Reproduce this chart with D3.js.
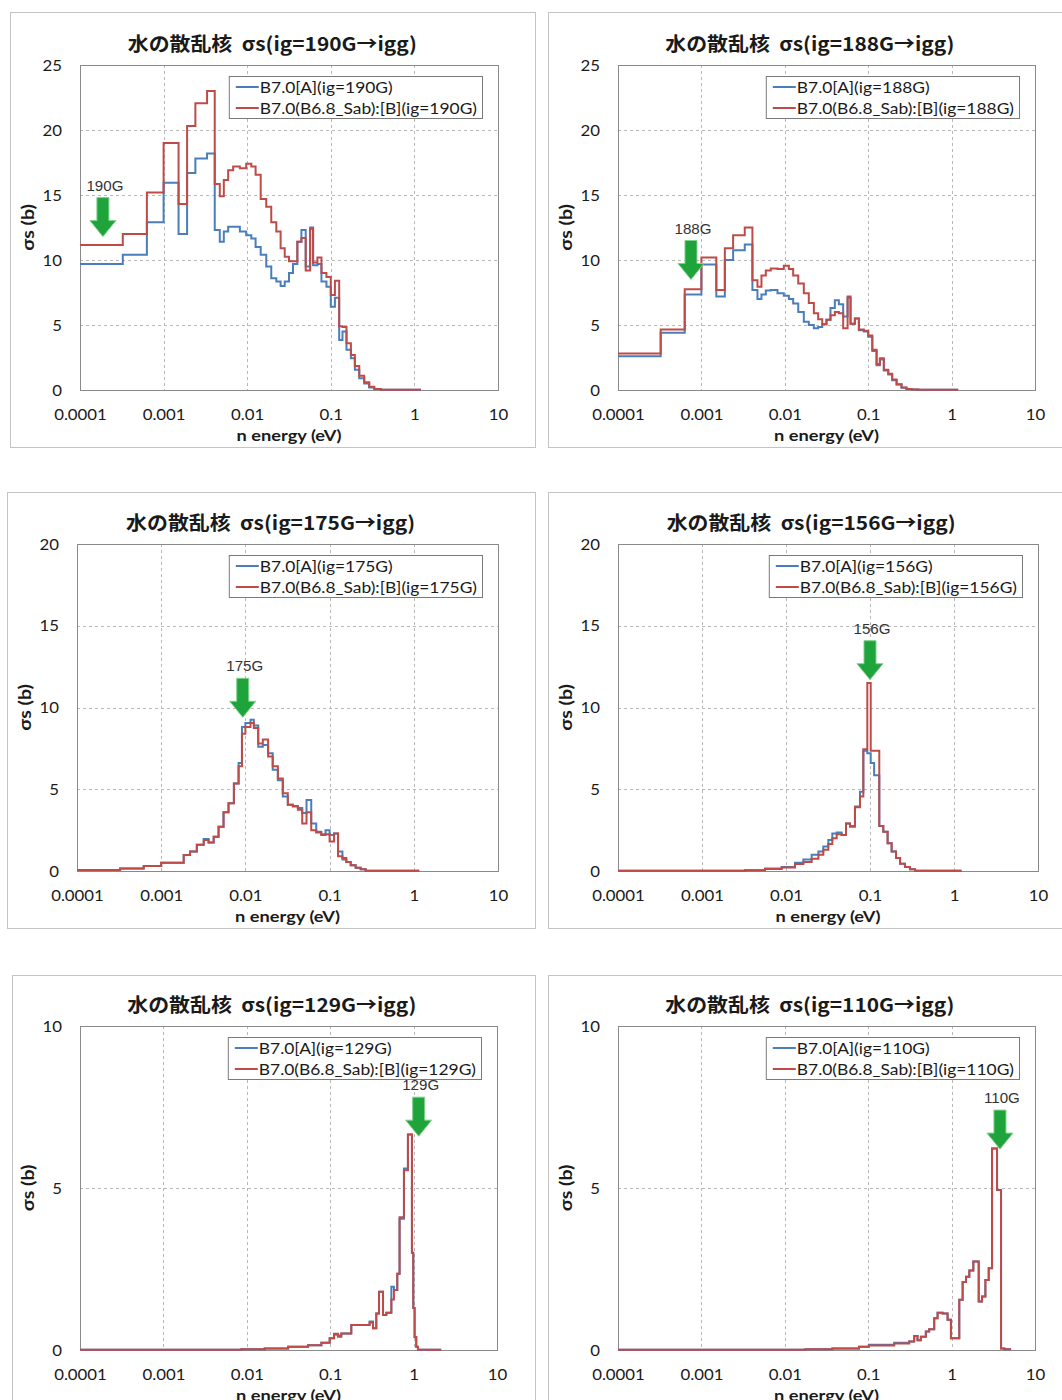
<!DOCTYPE html>
<html>
<head>
<meta charset="utf-8">
<script src="https://cdn.jsdelivr.net/npm/d3@7"></script>
<style>
  body { margin: 0; background: #fff; }
  svg { display: block; }
</style>
</head>
<body>
<div id="container"></div>
<script>
let w = 1062;
let h = 1400;

// DATA (group boundaries in eV, sigma_s in barns)
// 190G and 188G share the same low-energy boundaries
let edgesLow = [1e-4, 3.25e-4, 6.31e-4, 1e-3, 1.51e-3, 1.91e-3, 2.40e-3, 3.31e-3, 4.09e-3, 4.70e-3,
    5.25e-3, 5.92e-3, 6.79e-3, 8.17e-3, 9.73e-3, 1.12e-2, 1.26e-2, 1.45e-2, 1.69e-2, 1.94e-2,
    2.23e-2, 2.51e-2, 2.81e-2, 3.16e-2, 3.53e-2, 3.98e-2, 4.45e-2, 5.01e-2, 5.66e-2, 6.14e-2,
    6.92e-2, 7.73e-2, 8.87e-2, 0.1, 0.112, 0.126, 0.138, 0.154, 0.174, 0.194,
    0.219, 0.251, 0.288, 0.331, 0.398, 1.2];

let a190 = [9.7, 10.4, 12.9, 15.95, 12.0, 16.7, 17.8, 18.2, 12.3, 11.4,
    12.2, 12.55, 12.55, 12.2, 11.9, 11.65, 11.0, 10.4, 9.5, 8.6,
    8.35, 8.0, 8.35, 9.0, 9.7, 11.4, 12.3, 9.5, 12.5, 9.6,
    9.7, 8.35, 7.95, 6.4, 7.1, 3.85, 4.5, 3.1, 2.45, 1.55,
    0.9, 0.5, 0.2, 0.07, 0.02];
let b190 = [11.15, 12.0, 15.2, 19.0, 14.3, 20.3, 22.05, 23.0, 15.85, 14.9,
    16.15, 16.9, 17.2, 17.05, 17.4, 17.2, 16.55, 14.7, 14.1, 12.9,
    12.2, 10.9, 10.25, 9.9, 9.9, 11.4, 11.7, 9.2, 12.4, 9.8,
    10.2, 9.0, 8.7, 7.3, 8.4, 4.9, 4.85, 3.6, 2.7, 1.85,
    1.1, 0.6, 0.25, 0.08, 0.02];

let a188 = [2.6, 4.4, 7.35, 9.65, 7.2, 10.0, 10.75, 11.2, 7.7, 7.0,
    7.35, 7.65, 7.7, 7.45, 7.25, 7.0, 6.65, 6.0, 5.25, 5.0,
    4.75, 4.85, 5.05, 5.4, 6.3, 6.9, 6.6, 5.65, 7.1, 5.1,
    5.5, 4.6, 4.5, 4.1, 3.0, 1.9, 2.35, 1.5, 1.2, 0.75,
    0.42, 0.18, 0.07, 0.03, 0.02];
let b188 = [2.8, 4.65, 7.75, 10.2, 7.7, 10.9, 11.9, 12.5, 8.45, 7.95,
    8.8, 9.2, 9.35, 9.3, 9.55, 9.3, 8.8, 8.2, 7.45, 6.7,
    5.9, 5.45, 5.05, 5.4, 5.75, 6.0, 5.9, 4.75, 7.2, 5.1,
    5.5, 4.65, 4.55, 4.2, 3.1, 2.0, 2.45, 1.55, 1.25, 0.8,
    0.45, 0.2, 0.08, 0.03, 0.02];

let edges175 = [1e-4, 3.25e-4, 6.2e-4, 1e-3, 1.85e-3, 2.2e-3, 2.65e-3, 3.2e-3, 3.65e-3, 4.2e-3,
    4.8e-3, 5.5e-3, 6.3e-3, 7.3e-3, 8.3e-3, 9.1e-3, 1.0e-2, 1.15e-2, 1.26e-2, 1.42e-2,
    1.61e-2, 1.86e-2, 2.11e-2, 2.43e-2, 2.78e-2, 3.19e-2, 3.66e-2, 4.2e-2, 4.73e-2, 5.32e-2,
    6.05e-2, 6.94e-2, 7.96e-2, 8.95e-2, 0.1, 0.113, 0.126, 0.142, 0.158, 0.178,
    0.204, 0.234, 0.268, 1.16];
let a175 = [0.06, 0.15, 0.3, 0.5, 0.98, 1.2, 1.6, 1.95, 1.75, 2.1,
    2.7, 3.6, 4.15, 5.35, 6.6, 8.8, 9.05, 9.25, 8.9, 7.6,
    7.7, 7.2, 6.2, 5.55, 4.55, 4.05, 3.97, 3.85, 3.55, 4.35,
    2.9, 2.4, 2.25, 2.5, 2.2, 2.3, 1.2, 0.7, 0.55, 0.35,
    0.2, 0.1, 0.02];
let b175 = [0.06, 0.15, 0.3, 0.5, 0.98, 1.2, 1.6, 1.9, 1.75, 2.1,
    2.7, 3.6, 4.15, 5.35, 6.4, 8.4, 8.8, 9.05, 8.75, 7.8,
    8.05, 7.0, 6.4, 5.65, 4.75, 4.05, 3.95, 3.75, 2.9, 3.6,
    2.5, 2.35, 2.2, 2.25, 1.8, 2.3, 0.9, 0.8, 0.55, 0.35,
    0.2, 0.1, 0.02];

let edges156 = [1e-4, 3.25e-3, 5.62e-3, 8.88e-3, 1.28e-2, 1.61e-2, 2.02e-2, 2.43e-2, 2.78e-2, 3.19e-2,
    3.56e-2, 4.01e-2, 4.60e-2, 5.18e-2, 5.78e-2, 6.62e-2, 7.60e-2, 8.33e-2, 9.29e-2, 0.102,
    0.112, 0.129, 0.144, 0.162, 0.181, 0.204, 0.228, 0.261, 0.299, 0.344, 1.23];
let a156 = [0.02, 0.05, 0.15, 0.25, 0.5, 0.7, 1.0, 1.2, 1.5, 1.9,
    2.3, 2.35, 2.2, 2.9, 2.75, 3.95, 4.85, 7.35, 7.2, 6.6,
    5.85, 2.75, 2.4, 1.7, 1.2, 0.8, 0.45, 0.25, 0.1, 0.02];
let b156 = [0.02, 0.05, 0.12, 0.22, 0.43, 0.55, 0.75, 1.0, 1.3, 1.65,
    2.0, 2.25, 2.2, 2.9, 2.7, 3.9, 4.55, 7.45, 11.5, 7.35,
    7.35, 2.75, 2.4, 1.7, 1.2, 0.8, 0.45, 0.25, 0.1, 0.02];

let edges129 = [1e-4, 8.63e-3, 1.64e-2, 3.13e-2, 5.43e-2, 7.84e-2, 9.86e-2, 0.111, 0.124, 0.136,
    0.179, 0.236, 0.297, 0.326, 0.357, 0.385, 0.430, 0.471, 0.541, 0.581,
    0.637, 0.679, 0.766, 0.855, 0.955, 0.991, 1.028, 1.076, 1.127, 2.14];
let a129 = [0.005, 0.02, 0.05, 0.1, 0.15, 0.22, 0.36, 0.47, 0.45, 0.51,
    0.77, 0.77, 0.88, 0.67, 1.13, 1.8, 1.08, 1.15, 1.95, 1.85,
    2.35, 4.05, 5.6, 6.65, 3.0, 1.3, 0.4, 0.1, 0.01];
let b129 = [0.005, 0.02, 0.05, 0.1, 0.15, 0.22, 0.36, 0.5, 0.41, 0.51,
    0.77, 0.77, 0.85, 0.67, 1.13, 1.8, 1.08, 1.15, 1.56, 1.85,
    2.35, 4.1, 5.55, 6.65, 3.0, 1.3, 0.4, 0.1, 0.01];

let edges110 = [1e-4, 1.77e-2, 3.71e-2, 7.76e-2, 0.102, 0.205, 0.310, 0.356, 0.390, 0.428,
    0.491, 0.538, 0.619, 0.679, 0.780, 0.895, 0.982, 1.236, 1.356, 1.487,
    1.631, 1.822, 2.113, 2.317, 2.541, 2.786, 3.055, 3.508, 3.917, 4.296, 5.17];
let a110 = [0.005, 0.02, 0.05, 0.1, 0.16, 0.22, 0.26, 0.43, 0.3, 0.41,
    0.57, 0.64, 0.98, 1.15, 1.13, 0.93, 0.36, 1.55, 2.1, 2.26,
    2.45, 2.73, 1.5, 1.65, 2.16, 2.52, 6.22, 4.94, 0.05, 0.02];
let b110 = [0.005, 0.02, 0.05, 0.1, 0.14, 0.2, 0.26, 0.43, 0.3, 0.41,
    0.57, 0.64, 0.98, 1.15, 1.13, 0.93, 0.36, 1.55, 2.1, 2.26,
    2.45, 2.73, 1.5, 1.65, 2.16, 2.52, 6.22, 4.94, 0.05, 0.02];

let groups = ["190G", "188G", "175G", "156G", "129G", "110G"];
let yMax = [25, 25, 20, 20, 10, 10];
let arrowE = [1.88e-4, 7.5e-4, 9.3e-3, 0.1, 1.15, 3.8];   // where the green arrows point
let arrowV = [11.8, 8.5, 9.4, 11.7, 6.6, 6.2];
let xTicks = [1e-4, 1e-3, 1e-2, 0.1, 1, 10];
let xTickLabels = ["0.0001", "0.001", "0.01", "0.1", "1", "10"];

let series = [
    {edges: edgesLow, a: a190, b: b190},
    {edges: edgesLow, a: a188, b: b188},
    {edges: edges175, a: a175, b: b175},
    {edges: edges156, a: a156, b: b156},
    {edges: edges129, a: a129, b: b129},
    {edges: edges110, a: a110, b: b110}
];

// LAYOUT (frame = outer box, plot = inner plot area)
let layout = [
    {frame: [10, 12, 525, 435], plot: [80, 65, 418, 325]},
    {frame: [548, 12, 530, 435], plot: [618, 65, 417, 325]},
    {frame: [7, 492, 528, 436], plot: [77, 544, 421, 327]},
    {frame: [548, 492, 530, 436], plot: [618, 544, 420, 327]},
    {frame: [12, 975, 523, 440], plot: [80, 1026, 417, 324]},
    {frame: [548, 975, 530, 440], plot: [618, 1026, 417, 324]}
];

let blue = "#4a7ebb";
let red = "#be4b48";
let font = "Lato, 'Open Sans', 'Noto Sans CJK JP', sans-serif";

// the source picture is a bit wider than tall, so texts get stretched sideways
function stretch(sel, k) {
    sel.each(function () {
        let len = this.getComputedTextLength();
        d3.select(this).attr("textLength", len * k).attr("lengthAdjust", "spacingAndGlyphs");
    });
}

let svg = d3.select("#container").append("svg")
    .attr("width", w)
    .attr("height", h)
    .style("background-color", "white");

series.forEach((s, i) => {
    let L = layout[i];
    let px = L.plot[0], py = L.plot[1], pw = L.plot[2], ph = L.plot[3];

    let x = d3.scaleLog().domain([1e-4, 10]).range([px, px + pw]);
    let y = d3.scaleLinear().domain([0, yMax[i]]).range([py + ph, py]);
    let yTicks = d3.range(0, yMax[i] + 1, 5);

    let g = svg.append("g");

    // outer frame
    g.append("rect")
        .attr("x", L.frame[0] + 0.5).attr("y", L.frame[1] + 0.5)
        .attr("width", L.frame[2]).attr("height", L.frame[3])
        .attr("fill", "white")
        .attr("stroke", "#c4c4c4");

    // grid
    g.selectAll(".vgrid").data(xTicks.slice(1, -1)).enter()
        .append("line")
        .attr("x1", d => Math.round(x(d)) + 0.5).attr("x2", d => Math.round(x(d)) + 0.5)
        .attr("y1", py).attr("y2", py + ph)
        .attr("stroke", "#b8b8b8")
        .attr("stroke-dasharray", "3,3");
    g.selectAll(".hgrid").data(yTicks.slice(1, -1)).enter()
        .append("line")
        .attr("x1", px).attr("x2", px + pw)
        .attr("y1", d => Math.round(y(d)) + 0.5).attr("y2", d => Math.round(y(d)) + 0.5)
        .attr("stroke", "#b8b8b8")
        .attr("stroke-dasharray", "3,3");

    // plot border
    g.append("rect")
        .attr("x", px + 0.5).attr("y", py + 0.5)
        .attr("width", pw).attr("height", ph)
        .attr("fill", "none")
        .attr("stroke", "#8a8a8a");

    // axes
    let xAxis = g.append("g")
        .attr("transform", `translate(0,${py + ph})`)
        .call(d3.axisBottom(x).tickValues(xTicks).tickFormat((d, k) => xTickLabels[k]).tickSize(0).tickPadding(19));
    let yAxis = g.append("g")
        .attr("transform", `translate(${px},0)`)
        .call(d3.axisLeft(y).tickValues(yTicks).tickSize(0).tickPadding(18));
    [xAxis, yAxis].forEach(a => {
        a.select(".domain").remove();
        a.selectAll("text")
            .attr("fill", "#1a1a1a")
            .style("font-family", font)
            .style("font-size", "16px")
            .call(stretch, 1.05);
    });

    // step curves, blue under red
    let line = d3.line()
        .x(d => x(d[0]))
        .y(d => y(d[1]))
        .curve(d3.curveStepAfter);
    let pts = vals => vals.map((v, k) => [s.edges[k], v]).concat([[s.edges[s.edges.length - 1], vals[vals.length - 1]]]);
    g.append("path").attr("d", line(pts(s.a)))
        .attr("fill", "none").attr("stroke", blue).attr("stroke-width", 2);
    g.append("path").attr("d", line(pts(s.b)))
        .attr("fill", "none").attr("stroke", red).attr("stroke-width", 2);

    // title
    g.append("text")
        .attr("x", px + pw * 0.46).attr("y", py - 23)
        .attr("text-anchor", "middle")
        .attr("dominant-baseline", "central")
        .style("white-space", "pre")
        .style("font-family", "'Noto Sans CJK JP', sans-serif")
        .style("font-weight", "bold")
        .style("font-size", "19px")
        .attr("fill", "#1a1a1a")
        .text(`水の散乱核  σs(ig=${groups[i]}→igg)`)
        .call(stretch, 1.1);

    // axis titles
    g.append("text")
        .attr("x", px + pw / 2).attr("y", py + ph + 44)
        .attr("text-anchor", "middle")
        .attr("dominant-baseline", "central")
        .style("font-family", font)
        .style("font-weight", "bold")
        .style("font-size", "16px")
        .attr("fill", "#1a1a1a")
        .text("n energy (eV)")
        .call(stretch, 1.14);
    g.append("text")
        .attr("transform", `translate(${px - 53},${py + ph / 2}) rotate(-90)`)
        .attr("text-anchor", "middle")
        .attr("dominant-baseline", "central")
        .style("font-family", font)
        .style("font-weight", "bold")
        .style("font-size", "17px")
        .attr("fill", "#1a1a1a")
        .text("σs (b)")
        .call(stretch, 1.15);

    // legend
    let lg = g.append("g");
    let box = lg.append("rect")
        .attr("fill", "white")
        .attr("stroke", "#7a7a7a");
    let labels = [`B7.0[A](ig=${groups[i]})`, `B7.0(B6.8_Sab):[B](ig=${groups[i]})`];
    let maxW = 0;
    labels.forEach((t, k) => {
        let ty = py + 22 + k * 21;
        lg.append("line")
            .attr("x1", 0).attr("x2", 23)
            .attr("y1", ty).attr("y2", ty)
            .attr("stroke", k === 0 ? blue : red)
            .attr("stroke-width", 2);
        let tx = lg.append("text")
            .attr("x", 24).attr("y", ty)
            .attr("dominant-baseline", "central")
            .style("font-family", font)
            .style("font-size", "15px")
            .attr("fill", "#1a1a1a")
            .text(t)
            .call(stretch, 1.16);
        maxW = Math.max(maxW, +tx.attr("textLength"));
    });
    let bw = maxW + 36;
    box.attr("x", -6.5).attr("y", py + 11.5).attr("width", bw).attr("height", 42);
    lg.attr("transform", `translate(${px + pw - 15 - bw + 6},0)`);

    // green arrow + group label
    let ax = x(arrowE[i]), ay = y(arrowV[i]);
    let arrow = [[-6, -39], [6, -39], [6, -16], [13, -16], [0, 0], [-13, -16], [-6, -16]];
    g.append("polygon")
        .attr("points", arrow.map(p => [ax + p[0], ay + p[1]].join(",")).join(" "))
        .attr("fill", "#1fa33b")
        .attr("stroke", "#7fd08c")
        .attr("stroke-width", 1);
    g.append("text")
        .attr("x", ax + 2).attr("y", ay - 51)
        .attr("text-anchor", "middle")
        .attr("dominant-baseline", "central")
        .style("font-family", "'Liberation Sans', Arial, sans-serif")
        .style("font-size", "14px")
        .attr("fill", "#333")
        .text(groups[i])
        .call(stretch, 1.08);
});
</script>
</body>
</html>
